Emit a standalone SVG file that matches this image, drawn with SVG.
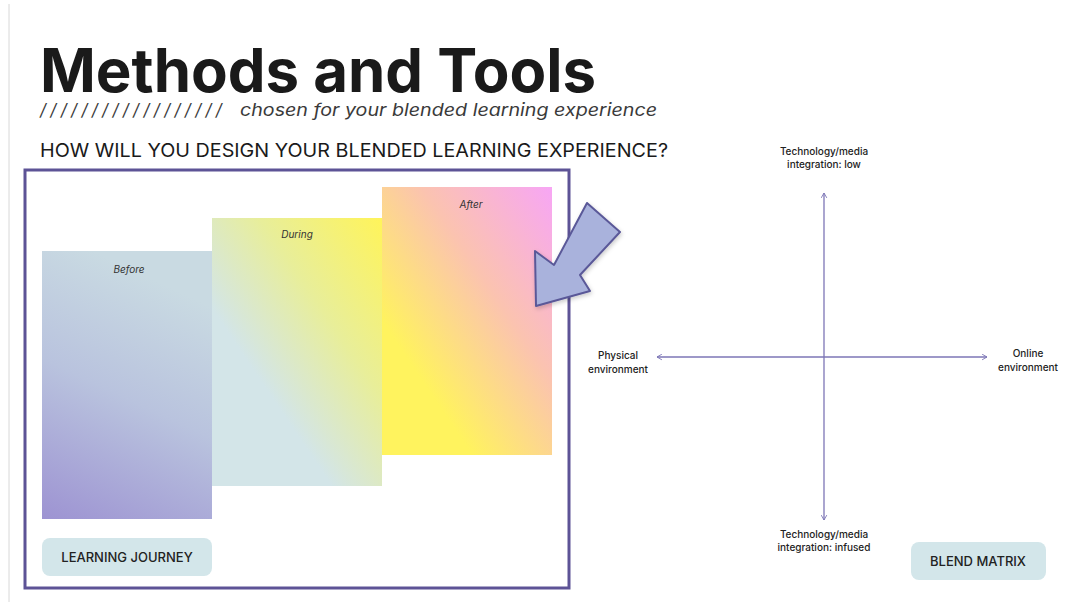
<svg xmlns="http://www.w3.org/2000/svg" width="1082" height="613" viewBox="0 0 1082 613">
<defs>
<style>
.t{font-family:Inter,"Liberation Sans",sans-serif;fill:#1a1a1a}
.sub{font-family:Inter,"Liberation Sans",sans-serif;font-size:17px;font-style:italic;font-weight:400;fill:#3a3a3a}
.small{font-family:Inter,"Liberation Sans",sans-serif;font-size:10px;font-weight:500;fill:#222;text-anchor:middle}
.lbl{font-family:Inter,"Liberation Sans",sans-serif;font-size:10px;font-style:italic;fill:#333;text-anchor:middle}
.tag{fill:#d3e6ea}
.tagt{font-family:Inter,"Liberation Sans",sans-serif;font-size:13px;font-weight:500;fill:#222;text-anchor:middle}
.axis{stroke:#7d76b6;stroke-width:1.3;fill:none}
</style>
<linearGradient id="gBefore" x1="0.3" y1="0" x2="0" y2="1">
<stop offset="0" stop-color="#c9dae2"/>
<stop offset="0.45" stop-color="#b9c3de"/>
<stop offset="1" stop-color="#9d93d2"/>
</linearGradient>
<linearGradient id="gDuring" x1="1" y1="0" x2="0.25" y2="0.8">
<stop offset="0" stop-color="#fff45a"/>
<stop offset="0.45" stop-color="#e8ee9a"/>
<stop offset="0.85" stop-color="#d3e5e8"/>
</linearGradient>
<linearGradient id="gAfter" x1="1" y1="0" x2="0.2" y2="0.85">
<stop offset="0" stop-color="#f7a6f5"/>
<stop offset="0.45" stop-color="#fbc3b0"/>
<stop offset="0.9" stop-color="#fff35e"/>
</linearGradient>
<marker id="ah" viewBox="0 0 10 10" refX="9" refY="5" markerWidth="7" markerHeight="7" orient="auto-start-reverse" markerUnits="userSpaceOnUse">
<polyline points="2,1 9,5 2,9" fill="none" stroke="#7d76b6" stroke-width="1.3"/>
</marker>
<filter id="sh" x="-20%" y="-20%" width="140%" height="140%">
<feDropShadow dx="1" dy="2" stdDeviation="2" flood-color="#000" flood-opacity="0.2"/>
</filter>
</defs>
<rect width="1082" height="613" fill="#ffffff"/>
<line x1="9" y1="4" x2="9" y2="602" stroke="#d8d8d8" stroke-width="1"/>

<g id="title">
<text class="t" x="40" y="92" font-size="60" font-weight="700" textLength="556" lengthAdjust="spacingAndGlyphs">Methods and Tools</text>
<text class="sub" x="40" y="116" textLength="182" lengthAdjust="spacing">//////////////////</text>
<text class="sub" x="240" y="116" textLength="417" lengthAdjust="spacingAndGlyphs">chosen for your blended learning experience</text>
<text class="t" x="40" y="157" font-size="19" textLength="628" lengthAdjust="spacingAndGlyphs">HOW WILL YOU DESIGN YOUR BLENDED LEARNING EXPERIENCE?</text>
</g>

<g id="learning-journey-frame">
<rect x="25" y="170" width="544" height="418" fill="#fff" stroke="#5d5396" stroke-width="3"/>
</g>

<g id="before">
<rect x="42" y="251" width="170" height="268" fill="url(#gBefore)"/>
<text class="lbl" x="129" y="273">Before</text>
</g>
<g id="during">
<rect x="212" y="218" width="170" height="268" fill="url(#gDuring)"/>
<text class="lbl" x="297" y="238">During</text>
</g>
<g id="after">
<rect x="382" y="187" width="170" height="268" fill="url(#gAfter)"/>
<text class="lbl" x="471" y="208">After</text>
</g>

<g id="learning-journey">
<rect class="tag" x="42" y="538" width="170" height="38" rx="8"/>
<text class="tagt" x="127" y="562">LEARNING JOURNEY</text>
</g>

<g id="big-arrow">
<polygon points="587,203 620,232 580,275 590,291 536,306 535,251 554,265" fill="#a9b2dc" stroke="#5a5898" stroke-width="2" stroke-linejoin="round" filter="url(#sh)"/>
</g>

<g id="connectors">
<line class="axis" x1="824" y1="193" x2="824" y2="520" marker-start="url(#ah)" marker-end="url(#ah)"/>
<line class="axis" x1="657" y1="357" x2="987" y2="357" marker-start="url(#ah)" marker-end="url(#ah)"/>
</g>

<g id="label-low">
<text class="small" x="824" y="155">Technology/media</text>
<text class="small" x="824" y="168">integration: low</text>
</g>
<g id="label-physical">
<text class="small" x="618" y="359">Physical</text>
<text class="small" x="618" y="373">environment</text>
</g>
<g id="label-online">
<text class="small" x="1028" y="357">Online</text>
<text class="small" x="1028" y="371">environment</text>
</g>
<g id="label-infused">
<text class="small" x="824" y="538">Technology/media</text>
<text class="small" x="824" y="551">integration: infused</text>
</g>

<g id="blend-matrix">
<rect class="tag" x="911" y="542" width="135" height="38" rx="8"/>
<text class="tagt" x="978" y="566">BLEND MATRIX</text>
</g>
</svg>
